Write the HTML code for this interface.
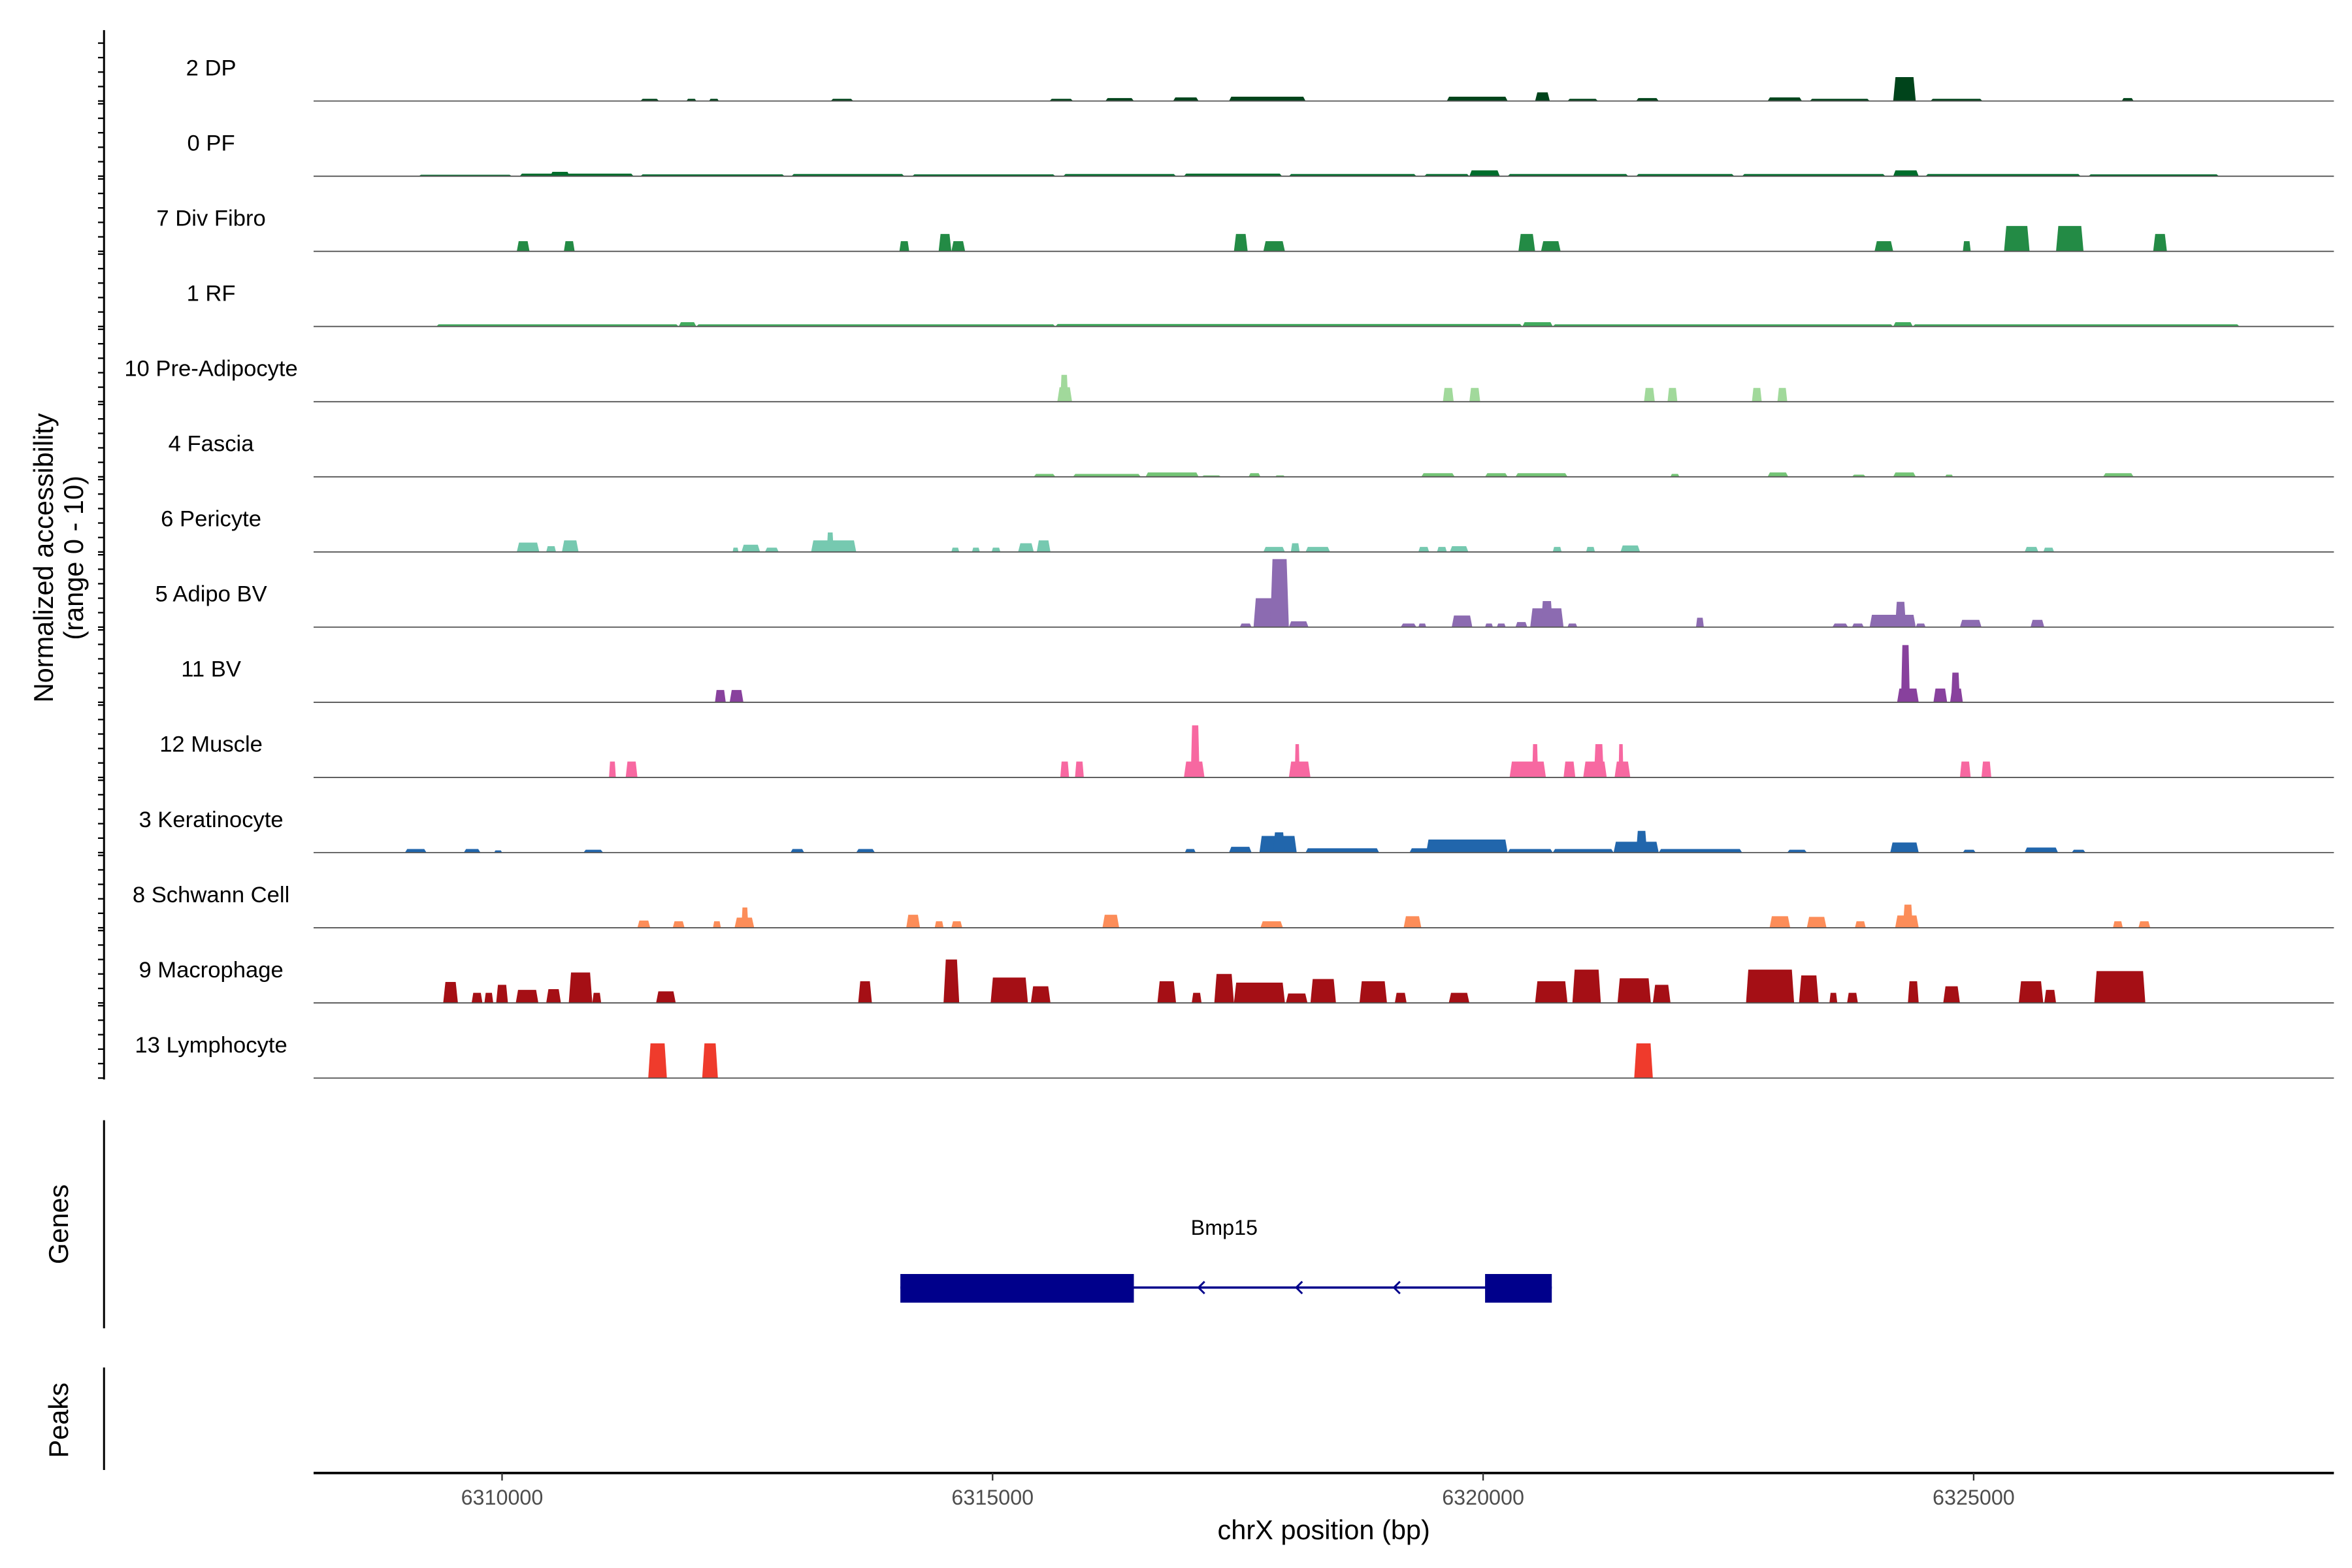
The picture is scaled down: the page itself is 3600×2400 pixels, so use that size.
<!DOCTYPE html>
<html><head><meta charset="utf-8"><style>
html,body{margin:0;padding:0;background:#fff}
svg{display:block}
text{font-family:"Liberation Sans",sans-serif}
</style></head><body>
<svg id="chart" width="3600" height="2400" viewBox="0 0 1560 1040" xmlns="http://www.w3.org/2000/svg">
<g id="tracks"></g>
<g id="yaxis"></g>
<text transform="translate(35,370) rotate(-90)" text-anchor="middle" font-size="18" fill="#000">Normalized accessibility</text>
<text transform="translate(55,370) rotate(-90)" text-anchor="middle" font-size="18" fill="#000">(range 0 - 10)</text>
<line x1="69" y1="743" x2="69" y2="881" stroke="#000" stroke-width="1.3"/>
<text transform="translate(45,812) rotate(-90)" text-anchor="middle" font-size="18" fill="#000">Genes</text>
<line x1="69" y1="907" x2="69" y2="975" stroke="#000" stroke-width="1.3"/>
<text transform="translate(45,942) rotate(-90)" text-anchor="middle" font-size="18" fill="#000">Peaks</text>
<g id="gene"></g>
<line x1="208" y1="977" x2="1548" y2="977" stroke="#000" stroke-width="1.6"/>
<g id="xaxis"></g>
<text x="878" y="1021" text-anchor="middle" font-size="18" fill="#000">chrX position (bp)</text>
</svg>
<script>
// ---- data (positions in kb on chrX, values on 0-10 scale) ----
const trackNames = ["2 DP","0 PF","7 Div Fibro","1 RF","10 Pre-Adipocyte","4 Fascia","6 Pericyte","5 Adipo BV","11 BV","12 Muscle","3 Keratinocyte","8 Schwann Cell","9 Macrophage","13 Lymphocyte"];
const trackColors = ["#00441b","#006d2c","#238b45","#41ab5d","#a1d99b","#74c476","#76c9b0","#8c6bb1","#88419d","#f768a1","#2166ac","#fc8d59","#a50f15","#ef3b2c"];
const xTicks = [6310000,6315000,6320000,6325000];
const peaksDP = [[6311.41,6311.60,0.3],[6311.88,6311.98,0.3],[6312.11,6312.21,0.3],[6313.35,6313.58,0.3],[6315.58,6315.82,0.3],[6316.15,6316.44,0.4],[6316.84,6317.10,0.5],[6317.41,6318.19,0.6],[6319.63,6320.25,0.6],[6320.53,6320.68,1.2],[6320.86,6321.17,0.3],[6321.56,6321.79,0.4],[6322.90,6323.25,0.5],[6323.33,6323.94,0.3],[6324.18,6324.41,3.3],[6324.56,6325.09,0.3],[6326.51,6326.63,0.4]];
const peaksPF = [[6309.15,6310.10,0.2],[6310.18,6311.34,0.35],[6310.49,6310.69,0.6],[6311.41,6312.88,0.25],[6312.95,6314.10,0.3],[6314.18,6315.64,0.25],[6315.72,6316.87,0.3],[6316.95,6317.95,0.35],[6318.02,6319.32,0.3],[6319.40,6319.86,0.3],[6319.86,6320.17,0.8],[6320.25,6321.48,0.3],[6321.56,6322.56,0.3],[6322.64,6324.10,0.3],[6324.18,6324.44,0.8],[6324.51,6326.09,0.3],[6326.17,6327.50,0.25]];
const peaksDivFibro = [[6310.15,6310.28,1.4],[6310.63,6310.74,1.4],[6314.05,6314.15,1.4],[6314.45,6314.58,2.4],[6314.58,6314.72,1.4],[6317.46,6317.60,2.4],[6317.76,6317.98,1.4],[6320.36,6320.53,2.4],[6320.59,6320.79,1.4],[6323.99,6324.18,1.4],[6324.89,6324.97,1.4],[6325.31,6325.57,3.5],[6325.84,6326.12,3.5],[6326.83,6326.97,2.4]];
const peaksRF = [[6309.33,6311.80,0.3],[6311.80,6311.98,0.6],[6311.98,6315.64,0.3],[6315.64,6320.40,0.35],[6320.40,6320.71,0.6],[6320.71,6324.18,0.3],[6324.18,6324.38,0.6],[6324.38,6327.71,0.3]];
const peaksPreAdip = [[6315.66,6315.81,2.0],[6315.69,6315.77,3.7],[6319.59,6319.70,1.9],[6319.86,6319.97,1.9],[6321.64,6321.75,1.9],[6321.88,6321.98,1.9],[6322.74,6322.84,1.9],[6323.00,6323.10,1.9]];
const peaksFascia = [[6315.42,6315.64,0.4],[6315.82,6316.51,0.4],[6316.56,6317.10,0.6],[6317.13,6317.33,0.2],[6317.61,6317.73,0.5],[6317.88,6317.98,0.2],[6319.37,6319.71,0.5],[6320.02,6320.25,0.5],[6320.33,6320.86,0.5],[6321.91,6322.00,0.4],[6322.90,6323.11,0.6],[6323.76,6323.90,0.3],[6324.18,6324.41,0.6],[6324.71,6324.79,0.3],[6326.32,6326.63,0.5]];
const peaksPericyte = [[6310.15,6310.38,1.3],[6310.45,6310.55,0.8],[6310.61,6310.78,1.6],[6312.35,6312.41,0.6],[6312.44,6312.63,1.0],[6312.68,6312.82,0.6],[6313.15,6313.61,1.6],[6313.31,6313.38,2.7],[6314.58,6314.66,0.6],[6314.79,6314.87,0.6],[6314.99,6315.08,0.6],[6315.26,6315.42,1.2],[6315.45,6315.59,1.6],[6317.76,6317.98,0.7],[6318.04,6318.13,1.2],[6318.19,6318.44,0.7],[6319.34,6319.45,0.7],[6319.53,6319.63,0.7],[6319.66,6319.85,0.8],[6320.71,6320.80,0.7],[6321.05,6321.14,0.7],[6321.40,6321.60,0.9],[6325.52,6325.66,0.7],[6325.71,6325.82,0.6]];
const peaksAdipoBV = [[6317.52,6317.64,0.5],[6317.66,6317.87,4.0],[6317.83,6318.02,9.4],[6318.02,6318.22,0.8],[6319.16,6319.32,0.5],[6319.34,6319.42,0.5],[6319.68,6319.89,1.6],[6320.02,6320.10,0.5],[6320.14,6320.23,0.5],[6320.33,6320.45,0.7],[6320.48,6320.82,2.6],[6320.59,6320.71,3.6],[6320.86,6320.96,0.5],[6322.17,6322.25,1.3],[6323.56,6323.72,0.5],[6323.76,6323.88,0.5],[6323.94,6324.41,1.7],[6324.20,6324.31,3.5],[6324.41,6324.51,0.5],[6324.86,6325.08,1.0],[6325.58,6325.72,1.0]];
const peaksBV = [[6312.17,6312.28,1.7],[6312.32,6312.46,1.7],[6324.22,6324.44,1.9],[6324.26,6324.35,7.9],[6324.59,6324.73,1.9],[6324.76,6324.89,1.9],[6324.77,6324.86,4.1]];
const peaksMuscle = [[6311.09,6311.16,2.2],[6311.26,6311.38,2.2],[6315.69,6315.78,2.2],[6315.84,6315.93,2.2],[6316.95,6317.16,2.2],[6317.02,6317.11,7.2],[6318.02,6318.24,2.2],[6318.08,6318.13,4.6],[6320.27,6320.64,2.2],[6320.50,6320.56,4.6],[6320.82,6320.94,2.2],[6321.02,6321.26,2.2],[6321.13,6321.23,4.6],[6321.34,6321.50,2.2],[6321.38,6321.43,4.6],[6324.86,6324.97,2.2],[6325.08,6325.18,2.2]];
const peaksKeratinocyte = [[6309.01,6309.23,0.5],[6309.61,6309.78,0.5],[6309.92,6310.00,0.3],[6310.83,6311.03,0.4],[6312.94,6313.08,0.5],[6313.61,6313.80,0.5],[6316.96,6317.07,0.5],[6317.41,6317.64,0.8],[6317.72,6318.10,2.3],[6317.86,6317.98,2.8],[6318.19,6318.94,0.6],[6319.25,6319.48,0.6],[6319.42,6320.25,1.8],[6320.25,6320.71,0.5],[6320.71,6321.33,0.5],[6321.33,6321.79,1.5],[6321.56,6321.67,3.0],[6321.79,6322.64,0.5],[6323.10,6323.30,0.4],[6324.15,6324.44,1.4],[6324.89,6325.02,0.4],[6325.52,6325.86,0.7],[6326.00,6326.14,0.4]];
const peaksSchwann = [[6311.38,6311.51,1.0],[6311.74,6311.86,0.9],[6312.15,6312.23,0.9],[6312.37,6312.57,1.4],[6312.44,6312.51,2.8],[6314.12,6314.26,1.8],[6314.41,6314.50,0.9],[6314.58,6314.69,0.9],[6316.12,6316.29,1.8],[6317.73,6317.96,0.9],[6319.19,6319.37,1.6],[6322.92,6323.13,1.6],[6323.30,6323.50,1.5],[6323.79,6323.90,0.9],[6324.20,6324.44,1.7],[6324.28,6324.38,3.2],[6326.42,6326.52,0.9],[6326.68,6326.80,0.9]];
const peaksMacrophage = [[6309.40,6309.55,2.9],[6309.69,6309.80,1.4],[6309.82,6309.91,1.4],[6309.94,6310.06,2.5],[6310.14,6310.37,1.8],[6310.45,6310.60,1.9],[6310.68,6310.92,4.2],[6310.92,6311.01,1.4],[6311.57,6311.77,1.6],[6313.63,6313.77,3.0],[6314.50,6314.66,6.0],[6314.98,6315.36,3.5],[6315.39,6315.59,2.3],[6316.68,6316.87,3.0],[6317.03,6317.13,1.4],[6317.26,6317.46,4.0],[6317.46,6317.98,2.8],[6317.99,6318.21,1.3],[6318.24,6318.50,3.3],[6318.74,6319.02,3.0],[6319.10,6319.22,1.4],[6319.65,6319.86,1.4],[6320.53,6320.86,3.0],[6320.91,6321.20,4.6],[6321.37,6321.71,3.4],[6321.73,6321.91,2.5],[6322.68,6323.17,4.6],[6323.22,6323.42,3.8],[6323.53,6323.61,1.4],[6323.71,6323.82,1.4],[6324.33,6324.44,3.0],[6324.69,6324.86,2.3],[6325.46,6325.71,3.0],[6325.72,6325.84,1.8],[6326.23,6326.75,4.4]];
const peaksLymphocyte = [[6311.49,6311.68,4.8],[6312.04,6312.20,4.8],[6321.54,6321.73,4.8]];
const geneExons = [[6314.06,6316.44],[6320.02,6320.70]];
const geneSpan = [6314.06,6320.70];
const geneName = "Bmp15";
// --------------------------------------------------------------
const allPeaks = [peaksDP,peaksPF,peaksDivFibro,peaksRF,peaksPreAdip,peaksFascia,peaksPericyte,peaksAdipoBV,peaksBV,peaksMuscle,peaksKeratinocyte,peaksSchwann,peaksMacrophage,peaksLymphocyte];
const NS="http://www.w3.org/2000/svg";
const X0=333, PXPERKB=65.07, TRACK_TOP=67, TRACK_STEP=49.85, VMAX=10, TRACK_H=48;
function xs(kb){return X0+(kb-6310)*PXPERKB;}
function baseY(i){return TRACK_TOP+i*TRACK_STEP;}
function ys(v,i){return baseY(i)-v/VMAX*TRACK_H;}
function mk(tag,attrs,parent){const e=document.createElementNS(NS,tag);for(const k in attrs)e.setAttribute(k,attrs[k]);parent.appendChild(e);return e;}
const tracks=document.getElementById('tracks');
const yaxis=document.getElementById('yaxis');
mk('line',{x1:69,y1:20,x2:69,y2:716,stroke:'#000','stroke-width':1.3},yaxis);
trackNames.forEach((name,i)=>{
  const g=mk('g',{},tracks);
  
  
  const b=baseY(i);
  allPeaks[i].forEach(p=>{
    const x1=xs(p[0]),x2=xs(p[1]),yt=ys(p[2],i);
    const w=x2-x1, ins=Math.min(w*0.15,1.5);
    const poly=mk('polygon',{points:`${x1},${b} ${x1+ins},${yt} ${x2-ins},${yt} ${x2},${b}`,fill:trackColors[i]},g);
    
    
  });
  const bl=mk('line',{x1:208,y1:b,x2:1548,y2:b,stroke:'#555','stroke-width':0.8},g);
  
  
  const t=mk('text',{x:140,y:b-17,'text-anchor':'middle','font-size':15,fill:'#000'},g);
  t.textContent=name;
  
  
  for(let k=0;k<6;k++){
    const ty=b-k*TRACK_H/5;
    if(ty<20)continue;
    const tk=mk('line',{x1:65,y1:ty,x2:69,y2:ty,stroke:'#000','stroke-width':1},yaxis);
    
    
  }
});
// gene
const gg=document.getElementById('gene');
const gy=854;
const il=mk('line',{x1:xs(geneSpan[0]),y1:gy,x2:xs(geneSpan[1]),y2:gy,stroke:'#00008b','stroke-width':1.5},gg);


geneExons.forEach(e=>{
  const r=mk('rect',{x:xs(e[0]),y:845,width:xs(e[1])-xs(e[0]),height:19,fill:'#00008b'},gg);
  
  
});
[0.46,0.61,0.76].forEach(f=>{
  const ax=xs(geneSpan[0]+(geneSpan[1]-geneSpan[0])*f);
  const a=mk('polyline',{points:`${ax+3},${gy-4} ${ax-1},${gy} ${ax+3},${gy+4}`,fill:'none',stroke:'#00008b','stroke-width':1.3},gg);
  
  
});
const gl=mk('text',{x:812,y:819,'text-anchor':'middle','font-size':14,fill:'#000'},gg);
gl.textContent=geneName;


// x axis
const xa=document.getElementById('xaxis');
xTicks.forEach(v=>{
  const x=xs(v/1000);
  const tk=mk('line',{x1:x,y1:977,x2:x,y2:982,stroke:'#333','stroke-width':1},xa);
  
  
  const t=mk('text',{x:x,y:998,'text-anchor':'middle','font-size':14,fill:'#4d4d4d'},xa);
  t.textContent=String(v);
  
  
});
</script>
</body></html>
